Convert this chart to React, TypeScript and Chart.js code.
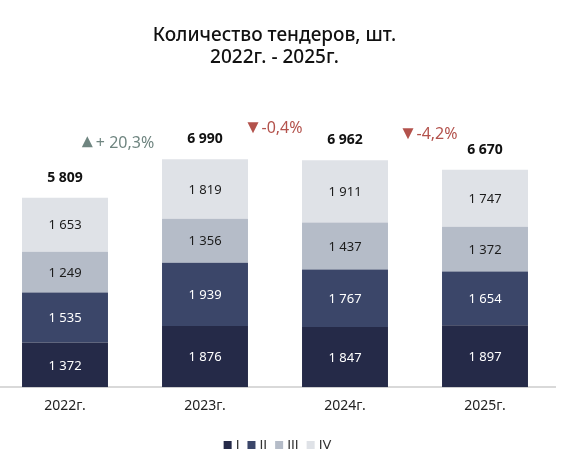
import React, { useEffect, useRef } from "react";
import { Chart, registerables } from "chart.js";

Chart.register(...registerables);

const categories = ["2022г.", "2023г.", "2024г.", "2025г."];
const seriesNames = ["I", "II", "III", "IV"];
const seriesI = [1372, 1876, 1847, 1897];
const seriesII = [1535, 1939, 1767, 1654];
const seriesIII = [1249, 1356, 1437, 1372];
const seriesIV = [1653, 1819, 1911, 1747];
const totals = [5809, 6990, 6962, 6670];
const changeLabels = ["+ 20,3%", "-0,4%", "-4,2%"];
const changeUp = [true, false, false];
const titleLines = ["Количество тендеров, шт.", "2022г. - 2025г."];

const seriesColors = ["#252a48", "#3b4669", "#b5bcc8", "#dfe2e7"];
const labelColors = ["#ffffff", "#ffffff", "#1c1c1c", "#1c1c1c"];
const upColor = "#6f8580";
const downColor = "#b3524c";
// placement of the change notes: shift from the gap between bars, rise above the taller neighbour
const changeOffsets = [
  { dx: -17, dy: 17 },
  { dx: 0, dy: 32 },
  { dx: 15, dy: 27 },
];

const fmt = (v: number) => String(v).replace(/\B(?=(\d{3})+(?!\d))/g, " ");

const FONT = "'Noto Sans', sans-serif";
const LEGEND_FONT = "'DejaVu Sans', sans-serif";

const overlay = {
  id: "overlay",
  afterDatasetsDraw(chart: any) {
    const ctx = chart.ctx;
    ctx.save();
    ctx.textAlign = "center";
    ctx.textBaseline = "middle";
    // segment values
    chart.data.datasets.forEach((ds: any, di: number) => {
      const meta = chart.getDatasetMeta(di);
      meta.data.forEach((bar: any, i: number) => {
        ctx.fillStyle = labelColors[di];
        ctx.font = `13px ${FONT}`;
        ctx.fillText(fmt(ds.data[i]), bar.x, (bar.y + bar.base) / 2 + 1);
      });
    });
    // totals
    const topMeta = chart.getDatasetMeta(chart.data.datasets.length - 1);
    const yScale = chart.scales.y;
    topMeta.data.forEach((bar: any, i: number) => {
      ctx.fillStyle = "#111111";
      ctx.font = `bold 14px ${FONT}`;
      ctx.fillText(fmt(totals[i]), bar.x, yScale.getPixelForValue(totals[i]) - 20);
    });
    // change notes
    changeLabels.forEach((txt, i) => {
      const a = topMeta.data[i];
      const b = topMeta.data[i + 1];
      const off = changeOffsets[i];
      const cx = (a.x + b.x) / 2 + off.dx;
      const cy = yScale.getPixelForValue(Math.max(totals[i], totals[i + 1])) - off.dy;
      ctx.font = `16px ${FONT}`;
      const tw = ctx.measureText(txt).width;
      const triW = 11;
      const gap = 3;
      const total = triW + gap + tw;
      const left = cx - total / 2;
      const col = changeUp[i] ? upColor : downColor;
      ctx.fillStyle = col;
      ctx.beginPath();
      if (changeUp[i]) {
        ctx.moveTo(left, cy + 5);
        ctx.lineTo(left + triW, cy + 5);
        ctx.lineTo(left + triW / 2, cy - 6);
      } else {
        ctx.moveTo(left, cy - 5);
        ctx.lineTo(left + triW, cy - 5);
        ctx.lineTo(left + triW / 2, cy + 6);
      }
      ctx.closePath();
      ctx.fill();
      ctx.textAlign = "left";
      ctx.fillText(txt, left + triW + gap, cy + 1);
      ctx.textAlign = "center";
    });
    ctx.restore();
  },
  afterDraw(chart: any) {
    const ctx = chart.ctx;
    ctx.save();
    // title
    ctx.fillStyle = "#111111";
    ctx.textAlign = "center";
    ctx.textBaseline = "middle";
    ctx.font = `500 19px ${FONT}`;
    const tx = chart.width / 2 - 5;
    ctx.fillText(titleLines[0], tx, 36);
    ctx.fillText(titleLines[1], tx, 58);
    // legend
    ctx.font = `13px ${LEGEND_FONT}`;
    const box = 8;
    const gapIn = 4;
    const gapOut = 8;
    const widths = seriesNames.map((n) => box + gapIn + ctx.measureText(n).width);
    const totalW = widths.reduce((s, w) => s + w, 0) + gapOut * (seriesNames.length - 1);
    let x = chart.width / 2 - 2 - totalW / 2;
    const ly = 445;
    ctx.textAlign = "left";
    seriesNames.forEach((n, i) => {
      ctx.fillStyle = seriesColors[i];
      ctx.fillRect(x, ly - box / 2, box, box);
      ctx.fillStyle = "#333333";
      ctx.fillText(n, x + box + gapIn, ly + 1);
      x += widths[i] + gapOut;
    });
    ctx.restore();
  },
};

export default function App() {
  const ref = useRef<HTMLCanvasElement | null>(null);
  useEffect(() => {
    if (!ref.current) return;
    const seriesData = [seriesI, seriesII, seriesIII, seriesIV];
    const chart = new Chart(ref.current, {
      type: "bar",
      data: {
        labels: categories,
        datasets: seriesNames.map((n, i) => ({
          label: n,
          data: seriesData[i],
          backgroundColor: seriesColors[i],
          borderWidth: 0,
          barPercentage: 0.614,
          categoryPercentage: 1,
        })),
      },
      options: {
        responsive: false,
        animation: false,
        devicePixelRatio: 1,
        layout: { padding: { top: 100, right: 9, bottom: 38, left: 0 } },
        plugins: {
          legend: { display: false },
          title: { display: false },
          tooltip: { enabled: false },
        },
        scales: {
          x: {
            stacked: true,
            grid: { display: false, drawTicks: false },
            border: { display: true, color: "#d9d9d9", width: 2 },
            ticks: { color: "#222222", font: { family: FONT, size: 14 }, padding: 10 },
          },
          y: {
            stacked: true,
            display: false,
            min: 0,
            max: 8810,
          },
        },
      },
      plugins: [overlay],
    });
    return () => chart.destroy();
  }, []);
  return (
    <div style={{ position: "absolute", left: -5, top: 0, width: 569, height: 462 }}>
      <canvas ref={ref} width={569} height={462} style={{ display: "block" }} />
    </div>
  );
}
